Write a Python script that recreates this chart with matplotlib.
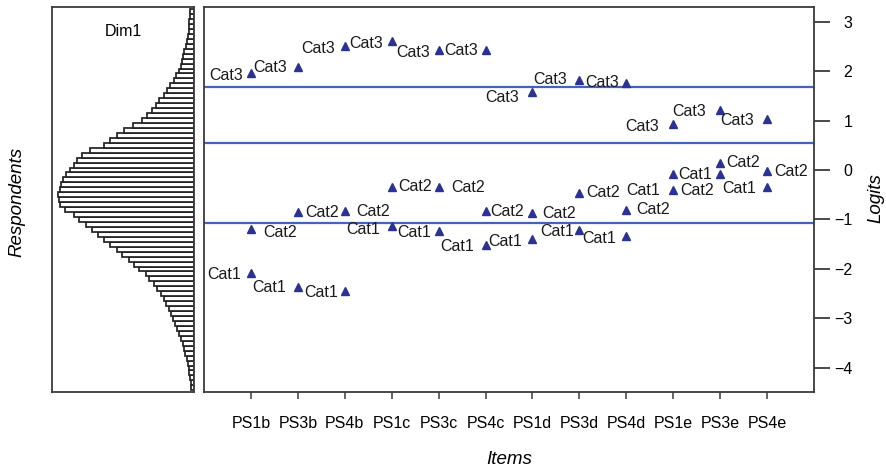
import matplotlib
matplotlib.use("Agg")
import matplotlib.pyplot as plt
import numpy as np

plt.rcParams['font.family'] = ['Liberation Sans', 'DejaVu Sans']

# ---------------- data ----------------
items = ["PS1b", "PS3b", "PS4b", "PS1c", "PS3c", "PS4c",
         "PS1d", "PS3d", "PS4d", "PS1e", "PS3e", "PS4e"]
cat1 = [-2.09, -2.37, -2.44, -1.14, -1.23, -1.51, -1.39, -1.21, -1.34, -0.09, -0.09, -0.34]
cat2 = [-1.19, -0.84, -0.82, -0.34, -0.35, -0.82, -0.86, -0.46, -0.80, -0.40, 0.15, -0.03]
cat3 = [1.95, 2.08, 2.51, 2.60, 2.43, 2.43, 1.58, 1.82, 1.76, 0.92, 1.22, 1.03]
cat_names = ["Cat1", "Cat2", "Cat3"]
threshold_lines = [1.67, 0.54, -1.07]
y_ticks = [3, 2, 1, 0, -1, -2, -3, -4]

# respondent histogram (bins of 0.1 logit, from -4.45 upward)
hist_start = -4.45
hist_width = 0.1
hist_counts = [3, 3, 4, 5, 5, 6, 7, 9, 10, 11, 13, 15, 17, 19, 21, 23, 25, 28, 30, 33,
               37, 40, 45, 48, 55, 60, 65, 72, 77, 84, 90, 96, 102, 108, 115, 120, 129,
               134, 135, 136, 134, 133, 131, 128, 124, 120, 117, 112, 104, 90, 84, 77,
               70, 61, 52, 47, 42, 38, 35, 30, 27, 24, 20, 18, 15, 13, 12, 11, 10, 8,
               7, 6, 5, 5, 5, 4, 4]

# ---------------- label layout (side, gap px, down-shift px) ----------------
side = [['L'] * 9 + ['R', '', 'L'],
        ['R'] * 12,
        ['L'] * 12]
gap = [[10, 12, 7, 12, 8, 12, 10, 5, 10, 5, 0, 11],
       [12, 7, 11, 7, 13, 5, 10, 7, 10, 7, 6, 7],
       [8, 11, 10, 9, 9, 8, 13, 12, 7, 14, 14, 13]]
dyl = [[1, 0, 1.5, 2.6, 2, 1.7, 2.4, 1.7, 2.6, 0, 0, 2],
       [3.7, 1, 1, 0, 0, 1, 1, 0, 0, 1, 0, 0],
       [2, 0, 3, 2, 2.4, 1, 5.6, 0, 0, 1.7, 1.4, 1]]
extra_labels = [(9, 1, "Cat1", 'L', 13, 1)]  # item idx, category idx, text, side, gap, dy

# ---------------- figure ----------------
W, H = 887, 472
fig = plt.figure(figsize=(W / 100, H / 100), dpi=100)
top_px, bot_px = 7, 392
ylim = (-4.485, 3.293)

def fax(x0, x1):
    return [x0 / W, 1 - bot_px / H, (x1 - x0) / W, (bot_px - top_px) / H]

edge = '#3a3a3a'
ax_h = fig.add_axes(fax(52, 194))
ax = fig.add_axes(fax(204, 814))

# histogram
centers = hist_start + hist_width * (np.arange(len(hist_counts)) + 0.5)
ax_h.barh(centers, hist_counts, height=hist_width, left=0, color='white',
          edgecolor='#222222', linewidth=1.25)
ax_h.set_xlim(142, 0)
ax_h.set_ylim(*ylim)
ax_h.set_xticks([])
ax_h.set_yticks([])
for s in ax_h.spines.values():
    s.set_color(edge)
    s.set_linewidth(1.3)
ax_h.text(0.5, 0.937, "Dim1", transform=ax_h.transAxes, ha='center', va='center',
          fontsize=11.5)

# main panel
x = np.arange(1, len(items) + 1)
for v in threshold_lines:
    ax.axhline(v, color='#4562BC', lw=1.6, zorder=1)

mcol = '#2B3290'
cats = [cat1, cat2, cat3]
for c in cats:
    ax.plot(x, c, linestyle='none', marker='^', ms=6.0, color=mcol, zorder=3)

def put_label(xi, v, text, sd, g, d):
    if sd == '':
        return
    dx = -g * 0.72 if sd == 'L' else g * 0.72
    ax.annotate(text, xy=(xi, v), xytext=(dx, -d * 0.72), textcoords='offset points',
                ha='right' if sd == 'L' else 'left', va='center', fontsize=11.5,
                color='#1a1a1a')

for k, c in enumerate(cats):
    for i, v in enumerate(c):
        put_label(x[i], v, cat_names[k], side[k][i], gap[k][i], dyl[k][i])
for (i, k, t, sd, g, d) in extra_labels:
    put_label(x[i], cats[k][i], t, sd, g, d)

ax.set_xlim(0, len(items) + 1)
ax.set_ylim(*ylim)
ax.set_xticks(x)
ax.set_xticklabels(items, fontsize=11.5)
ax.tick_params(axis='x', length=5, width=1.1, color=edge, pad=12)
ax.yaxis.tick_right()
ax.set_yticks(y_ticks)
ax.set_yticklabels([str(t).replace('-', '\u2212') for t in y_ticks], fontsize=11.5)
ax.tick_params(axis='y', length=11.5, width=1.3, color=edge, pad=16)
for lab in ax.get_yticklabels():
    lab.set_horizontalalignment('right')
for s in ax.spines.values():
    s.set_color(edge)
    s.set_linewidth(1.3)

fig.text(509 / W, 1 - 459 / H, "Items", ha='center', va='center', fontsize=13.5,
         style='italic')
fig.text(876 / W, 1 - 198 / H, "Logits", ha='center', va='center', fontsize=13.5,
         style='italic', rotation=90)
fig.text(17 / W, 1 - 202 / H, "Respondents", ha='center', va='center', fontsize=13.5,
         style='italic', rotation=90)

fig.savefig("out.png", dpi=100)
